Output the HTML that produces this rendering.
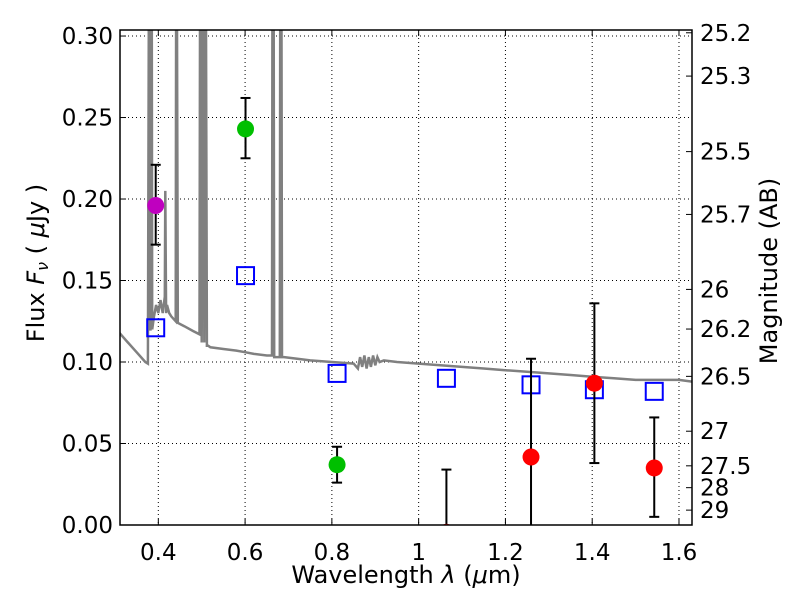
<!DOCTYPE html>
<html><head><meta charset="utf-8"><style>
body{margin:0;background:#fff;position:relative}
svg text{font-family:"DejaVu Sans","Liberation Sans",sans-serif;fill:#000}
</style></head><body>
<svg id="chart" width="800" height="600" xmlns="http://www.w3.org/2000/svg"></svg>
<script>
const xTicks=[0.4,0.6,0.8,1.0,1.2,1.4,1.6];
const xTickLabels=["0.4","0.6","0.8","1","1.2","1.4","1.6"];
const yTicks=[0,0.05,0.10,0.15,0.20,0.25,0.30];
const yTickLabels=["0.00","0.05","0.10","0.15","0.20","0.25","0.30"];
const magTicks=[25.2,25.3,25.5,25.7,26,26.2,26.5,27,27.5,28,29];
const magLabels=["25.2","25.3","25.5","25.7","26","26.2","26.5","27","27.5","28","29"];
const obsWave=[0.394,0.601,0.812,1.064,1.259,1.405,1.543];
const obsFlux=[0.196,0.243,0.037,-0.0045,0.0417,0.087,0.035];
const obsLo=[0.172,0.225,0.026,-0.01,-0.01,0.038,0.005];
const obsHi=[0.221,0.262,0.048,0.034,0.102,0.136,0.066];
const obsColor=["#bf00bf","#00bf00","#00bf00","#ff0000","#ff0000","#ff0000","#ff0000"];
const modelFlux=[0.121,0.153,0.093,0.090,0.086,0.083,0.082];
const specWave=[0.31,0.33,0.35,0.37,0.376,0.378,0.379,0.380,0.382,0.384,0.385,0.386,0.39,0.395,0.40,0.405,0.41,0.415,0.416,0.418,0.42,0.425,0.43,0.44,0.441,0.443,0.445,0.46,0.48,0.495,0.496,0.498,0.50,0.502,0.505,0.506,0.508,0.51,0.512,0.515,0.52,0.55,0.58,0.60,0.62,0.65,0.662,0.663,0.666,0.667,0.672,0.680,0.681,0.684,0.685,0.688,0.69,0.72,0.75,0.80,0.85,0.86,0.865,0.87,0.875,0.88,0.885,0.89,0.895,0.90,0.905,0.91,0.92,0.95,1.0,1.05,1.1,1.15,1.2,1.25,1.3,1.35,1.4,1.45,1.5,1.55,1.6,1.63];
const specFlux=[0.118,0.112,0.106,0.100,0.099,0.31,0.31,0.12,0.12,0.31,0.31,0.12,0.128,0.135,0.13,0.138,0.13,0.14,0.205,0.13,0.135,0.13,0.128,0.125,0.31,0.31,0.124,0.122,0.119,0.117,0.31,0.31,0.112,0.31,0.31,0.112,0.31,0.31,0.11,0.11,0.109,0.108,0.107,0.106,0.105,0.104,0.104,0.31,0.31,0.103,0.103,0.103,0.31,0.31,0.103,0.103,0.103,0.102,0.101,0.100,0.099,0.096,0.103,0.097,0.104,0.096,0.103,0.097,0.104,0.098,0.103,0.100,0.101,0.100,0.099,0.098,0.097,0.096,0.095,0.094,0.093,0.092,0.091,0.090,0.089,0.089,0.089,0.088];
const L=120,R=692,T=30,B=525;
const xmin=0.3117,xmax=1.63,ymin=0,ymax=0.3037;
const X=v=>L+(v-xmin)/(xmax-xmin)*(R-L);
const Y=v=>B-(v-ymin)/(ymax-ymin)*(B-T);
const NS="http://www.w3.org/2000/svg";
const svg=document.getElementById('chart');
function mk(tag,attrs,parent){const e=document.createElementNS(NS,tag);for(const k in attrs)e.setAttribute(k,attrs[k]);(parent||svg).appendChild(e);return e;}
const defs=mk('defs',{});const cp=mk('clipPath',{id:'clip'},defs);mk('rect',{x:L,y:T,width:R-L,height:B-T},cp);
const grid=mk('g',{stroke:'#000','stroke-width':1,'stroke-dasharray':'1,3'});


xTicks.forEach(v=>mk('line',{x1:X(v),x2:X(v),y1:T,y2:B},grid));
yTicks.forEach(v=>mk('line',{x1:L,x2:R,y1:Y(v),y2:Y(v)},grid));
const plot=mk('g',{'clip-path':'url(#clip)'});
let d='';specWave.forEach((w,i)=>{d+=(i?'L':'M')+X(w).toFixed(1)+','+Y(specFlux[i]).toFixed(1);});
const sp=mk('path',{d:d,fill:'none',stroke:'#808080','stroke-width':2.5},plot);


modelFlux.forEach((f,i)=>{const r=mk('rect',{x:X(obsWave[i])-8.5,y:Y(f)-8.5,width:17,height:17,fill:'none',stroke:'#0000ff','stroke-width':2},plot);

});
obsFlux.forEach((f,i)=>{const g=mk('g',{},plot);


const x=X(obsWave[i]);
mk('line',{x1:x,x2:x,y1:Y(obsLo[i]),y2:Y(obsHi[i]),stroke:'#000','stroke-width':2},g);
mk('line',{x1:x-5,x2:x+5,y1:Y(obsLo[i]),y2:Y(obsLo[i]),stroke:'#000','stroke-width':2},g);
mk('line',{x1:x-5,x2:x+5,y1:Y(obsHi[i]),y2:Y(obsHi[i]),stroke:'#000','stroke-width':2},g);
mk('circle',{cx:x,cy:Y(f),r:8.5,fill:obsColor[i]},g);});
const frame=mk('rect',{x:L,y:T,width:R-L,height:B-T,fill:'none',stroke:'#000','stroke-width':1.5});


xTicks.forEach((v,i)=>{mk('line',{x1:X(v),x2:X(v),y1:B,y2:B-6,stroke:'#000'});mk('line',{x1:X(v),x2:X(v),y1:T,y2:T+6,stroke:'#000'});
const t=mk('text',{x:X(v),y:B+35,'font-size':23,'text-anchor':'middle'});t.textContent=xTickLabels[i];

});
yTicks.forEach((v,i)=>{mk('line',{x1:L,x2:L+6,y1:Y(v),y2:Y(v),stroke:'#000'});
const t=mk('text',{x:L-7,y:Y(v)+8,'font-size':23,'text-anchor':'end'});t.textContent=yTickLabels[i];

});
magTicks.forEach((m,i)=>{const y=Y(Math.pow(10,(23.9-m)/2.5));mk('line',{x1:R,x2:R-6,y1:y,y2:y,stroke:'#000'});
const t=mk('text',{x:R+8,y:y+8,'font-size':23});t.textContent=magLabels[i];

});
</script>
<svg style="position:absolute;left:0;top:0" width="800" height="600" xmlns="http://www.w3.org/2000/svg">
<text x="406" y="583" font-size="24" text-anchor="middle" font-family="DejaVu Sans, Liberation Sans, sans-serif">Wavelength  <tspan font-style="italic">λ</tspan> (<tspan font-style="italic">μ</tspan>m)</text>
<text transform="translate(44,263) rotate(-90)" font-size="24" text-anchor="middle" font-family="DejaVu Sans, Liberation Sans, sans-serif">Flux  <tspan font-style="italic">F<tspan font-size="16" dy="4">ν</tspan></tspan><tspan dy="-4">  ( </tspan><tspan font-style="italic">μ</tspan>Jy )</text>
<text transform="translate(777,271) rotate(-90)" font-size="24" text-anchor="middle" font-family="DejaVu Sans, Liberation Sans, sans-serif">Magnitude (AB)</text>
</svg>
</body></html>
